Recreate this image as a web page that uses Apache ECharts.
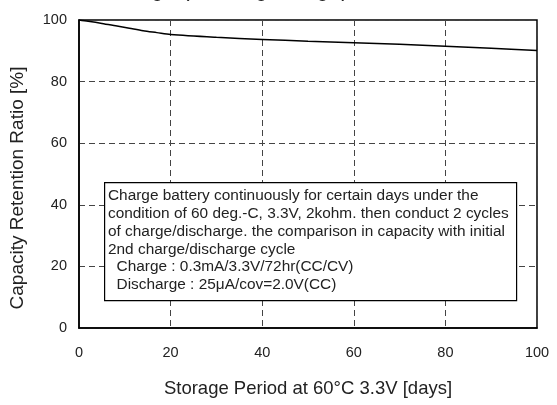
<!DOCTYPE html>
<html>
<head>
<meta charset="utf-8">
<script src="https://cdn.jsdelivr.net/npm/echarts@6/dist/echarts.min.js"></script>
<style>
html,body{margin:0;padding:0;background:#fff;}
#c{width:557px;height:405px;}
</style>
</head>
<body>
<div id="c"></div>
<script>
// ---- data ----
var days = [0, 2, 5, 8, 11, 14, 17, 20, 30, 40, 50, 60, 70, 80, 90, 100];
var retention = [100, 99.6, 98.9, 98.1, 97.3, 96.5, 95.9, 95.3, 94.4, 93.7, 93.1, 92.6, 92.1, 91.5, 90.8, 90.1];
var xTicks = [0, 20, 40, 60, 80, 100];
var yTicks = [0, 20, 40, 60, 80, 100];
var titleText = 'Storage (Floating charge)';
var xName = 'Storage Period at 60\u00B0C 3.3V [days]';
var yName = 'Capacity Retention Ratio [%]';
var noteLines = [
  'Charge battery continuously for certain days under the',
  'condition of 60 deg.-C, 3.3V, 2kohm. then conduct 2 cycles',
  'of charge/discharge. the comparison in capacity with initial',
  '2nd charge/discharge cycle',
  '  Charge : 0.3mA/3.3V/72hr(CC/CV)',
  '  Discharge : 25\u03BCA/cov=2.0V(CC)'
];

var font = '"Liberation Sans", Arial, Helvetica, sans-serif';
var chart = echarts.init(document.getElementById('c'), null, {renderer: 'canvas'});
var seriesData = days.map(function (d, i) { return [d, retention[i]]; });

var option = {
  animation: false,
  backgroundColor: '#fff',
  grid: {left: 76, right: 20, top: 20, bottom: 77, show: true, borderColor: '#000', borderWidth: 1.5, backgroundColor: 'transparent'},
  xAxis: {
    type: 'value', min: xTicks[0], max: xTicks[xTicks.length - 1], interval: 20,
    name: xName, nameLocation: 'middle', nameGap: 51,
    nameTextStyle: {fontFamily: font, fontSize: 18.5, color: '#222'},
    axisLine: {show: true, lineStyle: {color: '#000', width: 1.5}},
    axisTick: {show: false},
    axisLabel: {fontFamily: font, fontSize: 14.5, color: '#222', margin: 17},
    splitLine: {show: true, lineStyle: {color: '#444', width: 1, type: [6, 4]}}
  },
  yAxis: {
    type: 'value', min: yTicks[0], max: yTicks[yTicks.length - 1], interval: 20,
    name: yName, nameLocation: 'middle', nameGap: 52,
    nameTextStyle: {fontFamily: font, fontSize: 19, color: '#222', padding: [0, 28, 0, 0]},
    axisLine: {show: true, lineStyle: {color: '#000', width: 1.5}},
    axisTick: {show: false},
    axisLabel: {fontFamily: font, fontSize: 14.5, color: '#222', margin: 12},
    splitLine: {show: true, lineStyle: {color: '#444', width: 1, type: [6, 4]}}
  },
  series: [{
    type: 'line', data: seriesData, smooth: 0.3, symbol: 'none',
    lineStyle: {color: '#000', width: 1.5}, z: 3
  }],
  graphic: [
    {
      type: 'text', left: 99, top: -21, silent: true,
      style: {text: titleText, font: '22px ' + font, fill: '#222'}
    },
    {
      type: 'rect', left: 104, top: 182, z: 100,
      shape: {x: 0, y: 0, width: 412, height: 118},
      style: {fill: '#fff', stroke: '#000', lineWidth: 1.2}
    },
    {
      type: 'text', left: 108, top: 187, z: 101,
      style: {text: noteLines.join('\n'), font: '15.4px ' + font, lineHeight: 17.8, fill: '#222'}
    }
  ]
};
chart.setOption(option);
</script>
</body>
</html>
